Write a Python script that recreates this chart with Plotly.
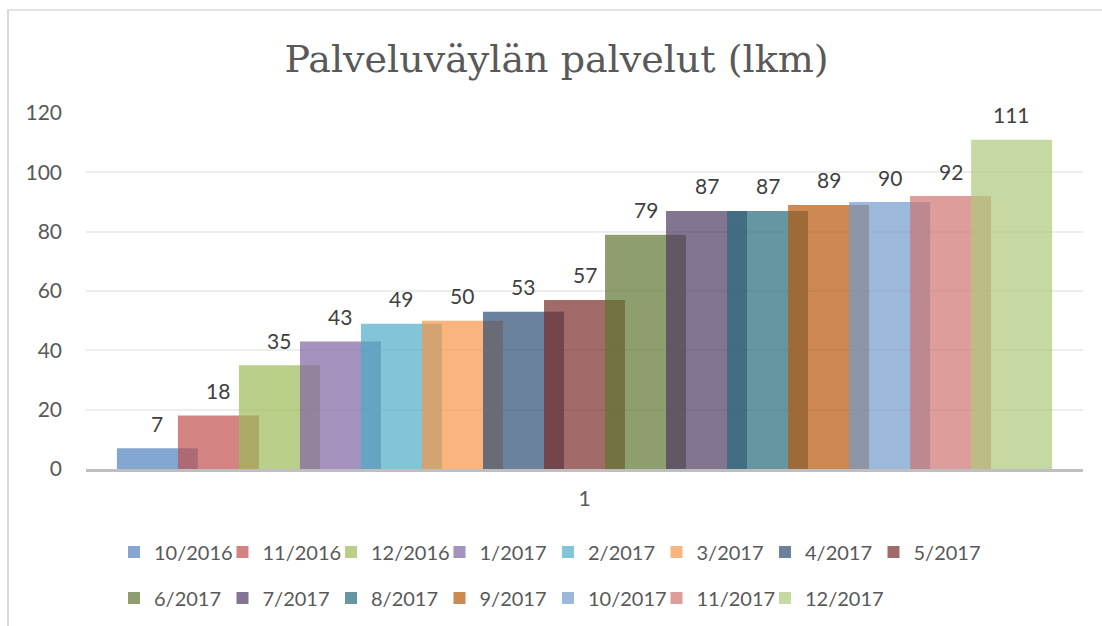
import plotly.graph_objects as go

# ---- data ----
category = ["1"]
series_names = ["10/2016", "11/2016", "12/2016", "1/2017", "2/2017", "3/2017", "4/2017",
                "5/2017", "6/2017", "7/2017", "8/2017", "9/2017", "10/2017", "11/2017", "12/2017"]
values = [7, 18, 35, 43, 49, 50, 53, 57, 79, 87, 87, 89, 90, 92, 111]
colors = ["#4F81BD", "#C0504D", "#9BBB59", "#8064A2", "#4BACC6", "#F79646", "#2C4D75",
          "#772C2A", "#5F7530", "#4D3B62", "#276A7C", "#B65708", "#729ACA", "#CD7371", "#AFC97A"]
y_ticks = [0, 20, 40, 60, 80, 100, 120]
title_text = "Palveluväylän palvelut (lkm)"

# ---- style / layout constants ----
W, H = 1102, 626
L, R, T, B = 86, 19, 113, 157
PW = W - L - R
PH = H - T - B
ALPHA = 0.7
bar_w = 0.0812       # width of one bar (category units)
bar_step = 0.0612    # distance between bar starts (bars overlap)
n = len(values)
total = (n - 1) * bar_step + bar_w
FONT = "Lato"
TXT = "#595959"
PER_ROW = 8
LEG_STEP = 108.5
LEG_X0 = 114
ROW_Y = [552, 598]


def rgba(hex_color, a):
    h = hex_color.lstrip("#")
    r, g, b = int(h[0:2], 16), int(h[2:4], 16), int(h[4:6], 16)
    return f"rgba({r},{g},{b},{a})"


def px_x(p):
    return (p - L) / PW


def px_y(p):
    return (H - B - p) / PH


def legend_id(i):
    return "legend" if i == 0 else f"legend{i + 1}"


fig = go.Figure()
annotations = []
legends = {}
for i, (name, v, c) in enumerate(zip(series_names, values, colors)):
    off = -total / 2 + i * bar_step
    fig.add_trace(go.Bar(
        x=category, y=[v], name=name,
        offset=off, width=bar_w,
        marker=dict(color=rgba(c, ALPHA), line=dict(width=0)),
        legend=legend_id(i),
        hoverinfo="name+y",
    ))
    annotations.append(dict(
        x=off + bar_w / 2, y=v, xref="x", yref="y",
        text=str(v), showarrow=False, yanchor="middle", yshift=25,
        font=dict(family=FONT, size=21, color="#404040"),
    ))
    row, col = divmod(i, PER_ROW)
    legends[legend_id(i)] = dict(
        x=px_x(LEG_X0 + col * LEG_STEP), y=px_y(ROW_Y[row]),
        orientation="h", xanchor="left", yanchor="middle",
        font=dict(family=FONT, size=20, color=TXT),
        bgcolor="rgba(0,0,0,0)",
    )

shapes = [
    dict(type="line", xref="paper", yref="paper", x0=px_x(8), x1=px_x(8), y0=px_y(10), y1=px_y(H),
         line=dict(color="#D9D9D9", width=2)),
    dict(type="line", xref="paper", yref="paper", x0=px_x(7), x1=px_x(W), y0=px_y(10), y1=px_y(10),
         line=dict(color="#D9D9D9", width=1.5)),
]

fig.update_layout(
    width=W, height=H,
    margin=dict(l=L, r=R, t=T, b=B, pad=0, autoexpand=False),
    paper_bgcolor="white", plot_bgcolor="white",
    barmode="overlay",
    title=dict(text=title_text, x=px_x(556.5), xref="paper", xanchor="center",
               y=1 - 59 / H, yref="container", yanchor="middle",
               font=dict(family="DejaVu Serif", size=38, color=TXT)),
    xaxis=dict(type="category", range=[-0.5, 0.5], showgrid=False, zeroline=False,
               showline=True, linecolor="#BFBFBF", linewidth=3,
               ticks="", ticklabelstandoff=9,
               tickfont=dict(family=FONT, size=21, color=TXT)),
    yaxis=dict(range=[0, 120], tickvals=y_ticks, showgrid=True, gridcolor="#EDEDED", gridwidth=1.5,
               zeroline=False, showline=False, ticks="", ticklabelstandoff=23,
               tickfont=dict(family=FONT, size=21, color=TXT)),
    annotations=annotations,
    shapes=shapes,
    showlegend=True,
    **legends,
)

fig.write_html("out.html", config={"displayModeBar": False},
               post_script="document.body.style.margin='0';document.body.style.overflow='hidden';")
